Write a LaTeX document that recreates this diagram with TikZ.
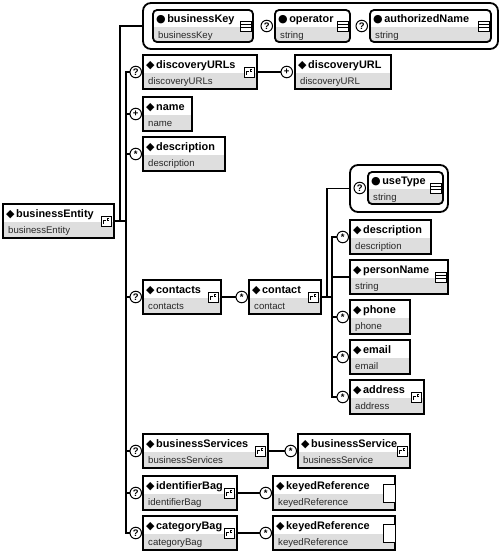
\documentclass[tikz,border=0pt]{standalone}
\usepackage{fontspec}
\setmainfont{Liberation Sans}
\newfontfamily\symf{DejaVu Sans}
\usepackage{tikz}
\usetikzlibrary{calc, positioning}
\definecolor{typegray}{RGB}{222, 222, 222}
\definecolor{typetext}{RGB}{40, 40, 40}

\newcommand{\bul}[1]{{\symf\fontsize{11}{11}\selectfont #1}\hspace{1.5pt}}

% element box: name, left, top, width, title, type
\newcommand{\elem}[6]{%
	\node[xbox, minimum width=#4pt] (#1) at (#2,-#3) {};
	\fill[typegray] ($(#1.north west)+(0,-18)$) rectangle (#1.south east);
	\draw[boxline] (#1.north west) rectangle (#1.south east);
	\node[head] at ($(#1.north west)+(3,-13.5)$) {\bul{◆}#5};
	\node[sub] at ($(#1.north west)+(5,-29.5)$) {#6};
}
% attribute box (rounded)
\newcommand{\attr}[6]{%
	\node[xbox, minimum width=#4pt, minimum height=32pt] (#1) at (#2,-#3) {};
	\begin{scope}
		\clip[rounded corners=4pt] (#1.north west) rectangle (#1.south east);
		\fill[typegray] ($(#1.north west)+(0,-17)$) rectangle (#1.south east);
	\end{scope}
	\draw[boxline, rounded corners=4pt] (#1.north west) rectangle (#1.south east);
	\node[head] at ($(#1.north west)+(3,-12.5)$) {\bul{●}#5};
	\node[sub] at ($(#1.north west)+(5,-28)$) {#6};
}
% icons
\newcommand{\cplx}[1]{%
	\node[cicon] (#1-i) at ($(#1.east)+(-8,0)$) {};
	\draw[line width=0.6pt] ($(#1-i.center)+(-2.5,-3)$) -- ++(0,3.5) -- ++(2.5,0)
		($(#1-i.center)+(3,3)$) -- ++(-2.2,0) -- ++(0,-2) -- ++(2.2,0);
}
\newcommand{\simp}[1]{%
	\node[sicon] (#1-i) at ($(#1.east)+(-7,0)$) {};
	\draw[line width=0.6pt] ($(#1-i.west)+(0,1.7)$) -- ($(#1-i.east)+(0,1.7)$)
		($(#1-i.west)+(0,-1.7)$) -- ($(#1-i.east)+(0,-1.7)$);
}
\newcommand{\anyc}[1]{%
	\draw[fill=white, line width=1pt] ($(#1.east)+(-12,-9)$) rectangle ($(#1.east)+(0,9)$);
}

\begin{document}
\begin{tikzpicture}[x=1pt, y=1pt,
						xbox/.style={rectangle, anchor=north west, minimum height=34pt, inner sep=0pt, outer sep=0pt, fill=white},
						boxline/.style={draw=black, line width=1.8pt},
						head/.style={anchor=base west, inner sep=0pt, font=\fontsize{10.9}{13}\selectfont\bfseries},
						sub/.style={anchor=base west, inner sep=0pt, text=typetext, font=\fontsize{9.6}{11}\selectfont},
						occ/.style={circle, draw, fill=white, line width=1pt, minimum size=11.5pt, inner sep=0pt, font=\fontsize{9.5}{9.5}\selectfont\bfseries},
						grp/.style={draw, line width=1.8pt, rounded corners=8pt, anchor=north west, inner sep=0pt, outer sep=0pt},
						cicon/.style={draw, fill=white, line width=0.8pt, minimum size=10pt, inner sep=0pt},
						sicon/.style={draw, fill=white, line width=0.8pt, minimum width=11pt, minimum height=10pt, inner sep=0pt},
						conn/.style={line width=1.3pt}
					]
					\useasboundingbox (0,0) rectangle (500,-555);

					% Root
					\elem{be}{3}{204}{111}{businessEntity}{businessEntity}
					\cplx{be}

					% Attributes
					\node[grp, minimum width=355pt, minimum height=46pt] (attrs) at (143,-3) {};
					\attr{bkey}{153}{10}{100}{businessKey}{businessKey}
					\simp{bkey}
					\attr{oper}{275}{10}{75}{operator}{string}
					\simp{oper}
					\node[occ, left=2pt of oper] (o-oper) {?};
					\attr{aname}{370}{10}{121}{authorizedName}{string}
					\simp{aname}
					\node[occ, left=2pt of aname] (o-aname) {?};

					% Children of businessEntity
					\elem{durls}{143}{55}{114}{discoveryURLs}{discoveryURLs}
					\cplx{durls}
					\node[occ, left=1pt of durls] (o-durls) {?};
					\elem{durl}{295}{55}{96}{discoveryURL}{discoveryURL}
					\node[occ, left=2pt of durl] (o-durl) {+};

					\elem{name}{143}{97}{49}{name}{name}
					\node[occ, left=1pt of name] (o-name) {+};
					\elem{descr}{143}{137}{82}{description}{description}
					\node[occ, left=1pt of descr] (o-descr) {*};

					\elem{contacts}{143}{280}{78}{contacts}{contacts}
					\cplx{contacts}
					\node[occ, left=1pt of contacts] (o-contacts) {?};
					\elem{contact}{249}{280}{72}{contact}{contact}
					\cplx{contact}
					\node[occ, left=1pt of contact] (o-contact) {*};

					% Contact content
					\node[grp, minimum width=98pt, minimum height=47pt] (usegrp) at (350,-165) {};
					\attr{utype}{368}{172}{75}{useType}{string}
					\simp{utype}
					\node[occ, left=2pt of utype] (o-utype) {?};

					\elem{cdescr}{350}{220}{81}{description}{description}
					\node[occ, left=1pt of cdescr] (o-cdescr) {*};
					\elem{pname}{350}{260}{98}{personName}{string}
					\simp{pname}
					\elem{phone}{350}{300}{60}{phone}{phone}
					\node[occ, left=1pt of phone] (o-phone) {*};
					\elem{email}{350}{340}{60}{email}{email}
					\node[occ, left=1pt of email] (o-email) {*};
					\elem{address}{350}{380}{74}{address}{address}
					\cplx{address}
					\node[occ, left=1pt of address] (o-address) {*};

					% Bottom children
					\elem{bsvcs}{143}{434}{125}{businessServices}{businessServices}
					\cplx{bsvcs}
					\node[occ, left=1pt of bsvcs] (o-bsvcs) {?};
					\elem{bsvc}{298}{434}{112}{businessService}{businessService}
					\cplx{bsvc}
					\node[occ, left=1pt of bsvc] (o-bsvc) {*};

					\elem{idbag}{143}{476}{94}{identifierBag}{identifierBag}
					\cplx{idbag}
					\node[occ, left=1pt of idbag] (o-idbag) {?};
					\elem{kref1}{273}{476}{122}{keyedReference}{keyedReference}
					\anyc{kref1}
					\node[occ, left=1pt of kref1] (o-kref1) {*};

					\elem{cbag}{143}{516}{94}{categoryBag}{categoryBag}
					\cplx{cbag}
					\node[occ, left=1pt of cbag] (o-cbag) {?};
					\elem{kref2}{273}{516}{122}{keyedReference}{keyedReference}
					\anyc{kref2}
					\node[occ, left=1pt of kref2] (o-kref2) {*};

					% Connectors
					\draw[conn] (be.east) -- ++(6,0) |- (attrs.west);
					\draw[conn] (be.east) -- ++(12,0) coordinate (spine);
					\draw[conn] (o-durls.west) -| (spine) |- (o-cbag.west);
					\foreach \n in {name, descr, contacts, bsvcs, idbag}
						\draw[conn] (o-\n.west) -- (o-\n.west -| spine);

					\draw[conn] (durls) -- (o-durl);
					\draw[conn] (contacts) -- (o-contact);
					\draw[conn] (bsvcs) -- (o-bsvc);
					\draw[conn] (idbag) -- (o-kref1);
					\draw[conn] (cbag) -- (o-kref2);

					\draw[conn] (contact.east) -- ++(6,0) |- (usegrp.west);
					\draw[conn] (contact.east) -- ++(11,0) coordinate (cspine);
					\draw[conn] (o-cdescr.west) -| (cspine) |- (o-address.west);
					\foreach \n in {phone, email}
						\draw[conn] (o-\n.west) -- (o-\n.west -| cspine);
					\draw[conn] (pname.west) -- (pname.west -| cspine);
				\end{tikzpicture}
\end{document}
